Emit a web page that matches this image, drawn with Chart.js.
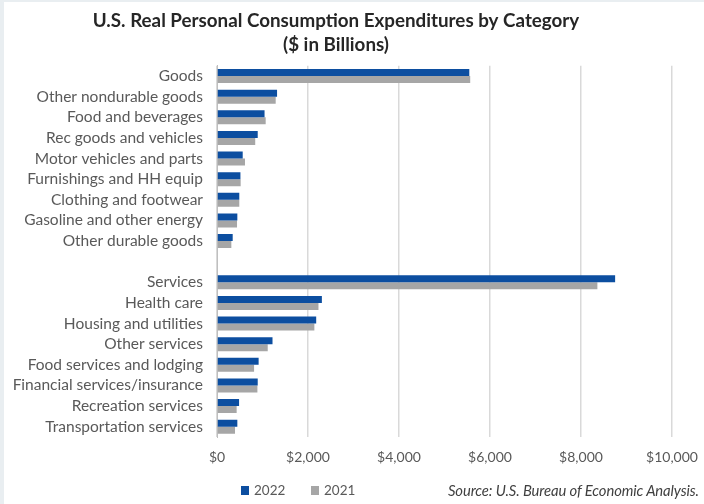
<!DOCTYPE html>
<html>
<head>
<meta charset="utf-8">
<script src="https://cdn.jsdelivr.net/npm/chart.js@4.4.1/dist/chart.umd.min.js"></script>
<style>
  html, body { margin: 0; padding: 0; background: #e9eef1; }
  #wrap { position: absolute; left: 4px; top: 2px; width: 700px; height: 502px; background: #ffffff; }
  #c { position: absolute; left: -4px; top: -2px; }
  .leg { position: absolute; top: 480px; font-family: Lato, "Open Sans", sans-serif; font-size: 13.5px; color: #595959; }
  .sw { display: inline-block; width: 8px; height: 9px; margin-right: 5px; vertical-align: 0px; }
  #src { position: absolute; left: 444px; top: 479px; font-family: Lato, "Open Sans", sans-serif; font-style: italic; font-size: 14.8px; color: #404040; letter-spacing: -0.1px; white-space: nowrap; }
</style>
</head>
<body>
<div id="wrap">
  <canvas id="c" width="704" height="504"></canvas>
  <div class="leg" style="left:237px"><span class="sw" style="background:#0c4ea0"></span>2022</div>
  <div class="leg" style="left:307px"><span class="sw" style="background:#a6a6a6"></span>2021</div>
  <div id="src">Source: U.S. Bureau of Economic Analysis.</div>
</div>
<script>
const categories = [
  "Goods", "Other nondurable goods", "Food and beverages", "Rec goods and vehicles",
  "Motor vehicles and parts", "Furnishings and HH equip", "Clothing and footwear",
  "Gasoline and other energy", "Other durable goods", "",
  "Services", "Health care", "Housing and utilities", "Other services",
  "Food services and lodging", "Financial services/insurance", "Recreation services",
  "Transportation services"
];
const values2022 = [5545, 1320, 1045, 895, 565, 515, 490, 447, 345, null,
                    8750, 2305, 2180, 1220, 915, 895, 485, 447];
const values2021 = [5565, 1290, 1070, 840, 615, 520, 490, 440, 315, null,
                    8360, 2230, 2140, 1115, 815, 888, 432, 396];
const xTicks = [0, 2000, 4000, 6000, 8000, 10000];

const yFont = { family: "Lato, 'Open Sans', sans-serif", size: 15.5 };
const xFont = { family: "Lato, 'Open Sans', sans-serif", size: 14 };

new Chart(document.getElementById('c'), {
  type: 'bar',
  data: {
    labels: categories,
    datasets: [
      { label: '2022', data: values2022, backgroundColor: '#0c4ea0', borderWidth: 0,
        barPercentage: 1.0, categoryPercentage: 0.68 },
      { label: '2021', data: values2021, backgroundColor: '#a6a6a6', borderWidth: 0,
        barPercentage: 1.0, categoryPercentage: 0.68 }
    ]
  },
  options: {
    indexAxis: 'y',
    responsive: false,
    animation: false,
    layout: { padding: { left: 0, right: 32, top: 0, bottom: 0 } },
    plugins: {
      legend: { display: false },
      tooltip: { enabled: false },
      title: {
        display: true,
        text: ["U.S. Real Personal Consumption Expenditures by Category", "($ in Billions)"],
        color: '#262626',
        font: { family: "Lato, 'Open Sans', sans-serif", size: 18.8, weight: 'bold', lineHeight: 1.27 },
        padding: { top: 9, bottom: 9 }
      }
    },
    scales: {
      x: {
        min: 0, max: 10000,
        afterBuildTicks: (s) => { s.ticks = xTicks.map(v => ({ value: v })); },
        afterFit: (s) => { s.height = 504 - 437; s.paddingLeft = 0; s.paddingRight = 0; },
        ticks: {
          color: '#595959', font: xFont, padding: 12,
          callback: (v) => '$' + Number(v).toLocaleString('en-US')
        },
        grid: { color: '#d9d9d9', lineWidth: 1.5, drawTicks: false },
        border: { display: false }
      },
      y: {
        afterFit: (s) => { s.width = 217; },
        ticks: { color: '#595959', font: yFont, padding: 14, autoSkip: false },
        grid: { display: false, drawTicks: false },
        border: { display: true, color: '#bfbfbf', width: 1 }
      }
    }
  }
});
</script>
</body>
</html>
